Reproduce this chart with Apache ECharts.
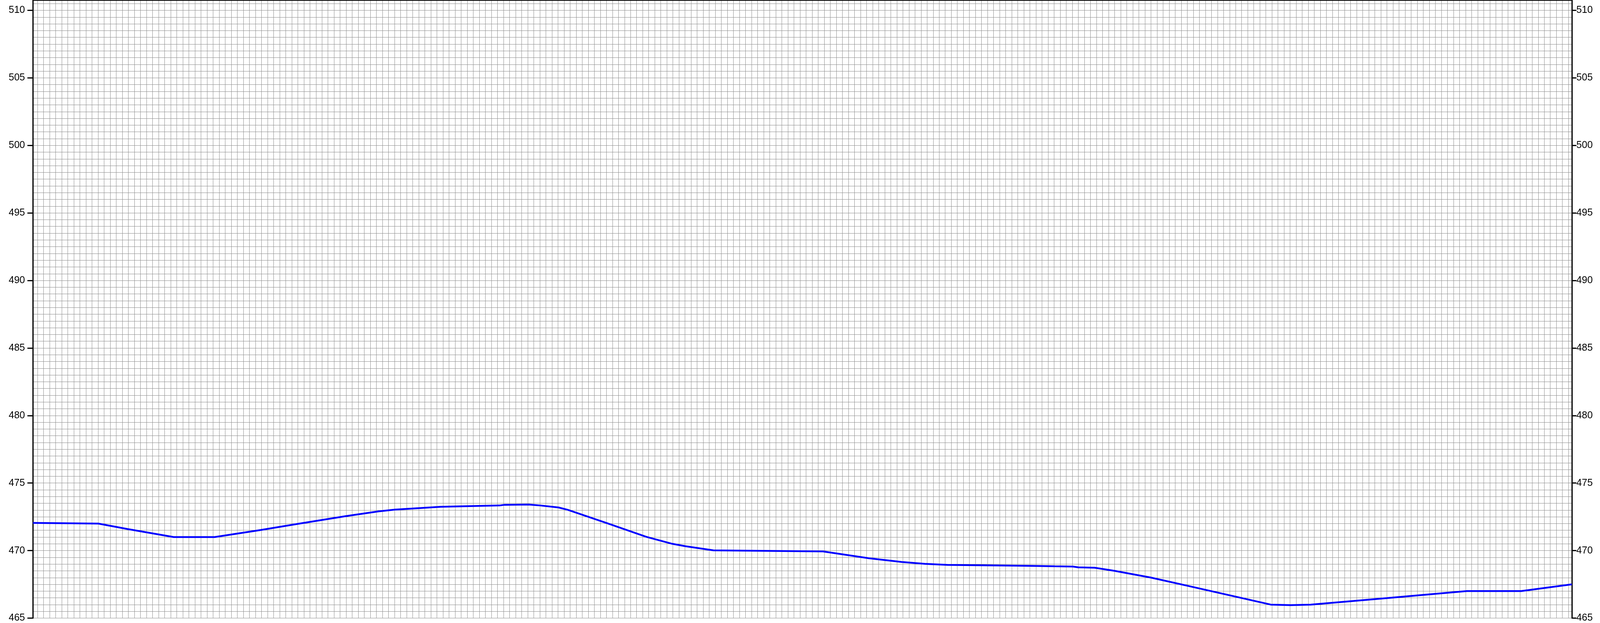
<!DOCTYPE html>
<html>
<head>
<meta charset="utf-8">
<script src="https://cdn.jsdelivr.net/npm/echarts@6/dist/echarts.min.js"></script>
<style>
html,body{margin:0;padding:0;background:#fff;overflow:hidden;width:100%;height:100%;}
#chart{position:absolute;left:0;top:0;width:100vw;height:100vh;}
</style>
</head>
<body>
<div id="chart"></div>
<script>
// distance along profile (grid units: one vertical grid line per unit)
const distance = [0.24, 11.05, 15.8, 23.5, 30.26, 37.84, 43.79, 51.9, 57.33, 60.03, 67.6, 77.35, 78.16, 82.2, 84.1, 87.1, 88.6, 95.1, 101.6, 105.9, 108.1, 112.7, 130.8, 138.4, 143.8, 147.6, 151.4, 160.0, 165.4, 169.1, 172.1, 173.0, 175.7, 179.0, 185.0, 191.1, 204.8, 208.1, 211.4, 224.0, 237.2, 246.2, 254.57];
// elevation values
const elevation = [472.05, 472.0, 471.6, 471.0, 471.0, 471.52, 471.96, 472.55, 472.9, 473.03, 473.24, 473.34, 473.39, 473.41, 473.34, 473.19, 473.02, 472.03, 471.02, 470.5, 470.32, 470.02, 469.94, 469.43, 469.16, 469.02, 468.94, 468.9, 468.87, 468.84, 468.82, 468.76, 468.73, 468.5, 468.0, 467.39, 466.0, 465.96, 466.0, 466.48, 467.0, 467.0, 467.5];
// y tick labels
const yTicks = [465, 470, 475, 480, 485, 490, 495, 500, 505, 510];

const X_MIN = 0.237, X_MAX = 254.57;
const Y_MIN = 465, Y_MAX = 510.766;

const points = distance.map((d, i) => [d, elevation[i]]);

const el = document.getElementById('chart');
const W = window.innerWidth || 4611, H = window.innerHeight || 1595;
const sx = W / 4611, sy = H / 1595;

const chart = echarts.init(el, null, {renderer: 'canvas', width: W, height: H});
const gridColor = '#8e8e8e';
const labelFont = {color: '#000', fontSize: 25 * sy, fontFamily: 'Liberation Sans, Arial, sans-serif'};

chart.setOption({
  animation: false,
  backgroundColor: '#ffffff',
  grid: {left: 95 * sx, right: 81 * sx, top: 0, bottom: -1.1 * sy, containLabel: false},
  xAxis: [
    {
      type: 'value', position: 'bottom', min: X_MIN, max: X_MAX,
      minInterval: 1, maxInterval: 1,
      axisLine: {show: false}, axisTick: {show: false}, axisLabel: {show: false},
      splitLine: {show: true, lineStyle: {color: gridColor, width: 1}}
    },
    {
      type: 'value', position: 'top', min: X_MIN, max: X_MAX,
      axisLine: {show: true, onZero: false, lineStyle: {color: '#000', width: 3}},
      axisTick: {show: false}, axisLabel: {show: false}, splitLine: {show: false}
    }
  ],
  yAxis: [
    {
      type: 'value', position: 'left', min: Y_MIN, max: Y_MAX,
      minInterval: 0.5, maxInterval: 0.5,
      axisLine: {show: false}, axisTick: {show: false}, axisLabel: {show: false},
      splitLine: {show: true, lineStyle: {color: gridColor, width: 1}}
    },
    {
      type: 'value', position: 'left', min: Y_MIN, max: Y_MAX, interval: 5,
      axisLine: {show: true, onZero: false, lineStyle: {color: '#000', width: 3.5 * sx}},
      axisTick: {show: true, length: 16 * sx, lineStyle: {color: '#000', width: 3 * sy}, customValues: yTicks},
      axisLabel: Object.assign({show: true, margin: 23 * sx, customValues: yTicks}, labelFont),
      splitLine: {show: false}
    },
    {
      type: 'value', position: 'right', min: Y_MIN, max: Y_MAX, interval: 5,
      axisLine: {show: true, onZero: false, lineStyle: {color: '#000', width: 3.5 * sx}},
      axisTick: {show: true, length: 13 * sx, lineStyle: {color: '#000', width: 3 * sy}, customValues: yTicks},
      axisLabel: Object.assign({show: true, margin: 13 * sx, customValues: yTicks}, labelFont),
      splitLine: {show: false}
    }
  ],
  series: [
    {
      type: 'line',
      xAxisIndex: 0, yAxisIndex: 0,
      data: points,
      showSymbol: false,
      symbol: 'none',
      smooth: false,
      lineStyle: {color: '#0000ff', width: 4.5 * sy},
      z: 10
    }
  ]
});
</script>
</body>
</html>
